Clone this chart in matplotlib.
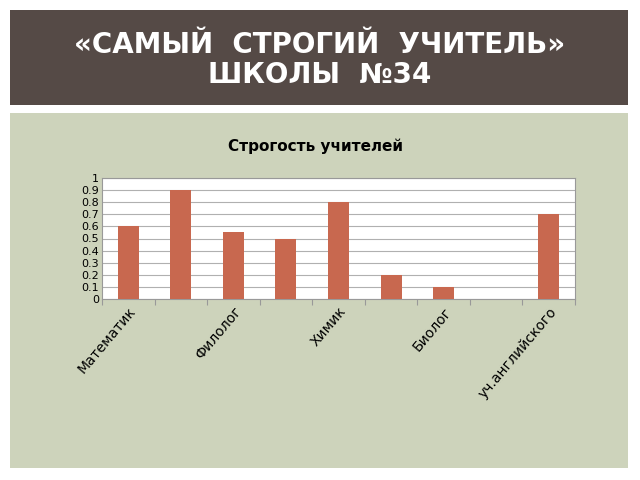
import matplotlib
matplotlib.use("Agg")
import matplotlib.pyplot as plt
from matplotlib.patches import Rectangle

categories = ["Математик", "", "Филолог", "", "Химик", "", "Биолог", "", "уч.английского"]
values = [0.6, 0.9, 0.55, 0.5, 0.8, 0.2, 0.1, 0.0, 0.7]
yticks = [0, 0.1, 0.2, 0.3, 0.4, 0.5, 0.6, 0.7, 0.8, 0.9, 1]
ytick_labels = ["0", "0.1", "0.2", "0.3", "0.4", "0.5", "0.6", "0.7", "0.8", "0.9", "1"]

fig = plt.figure(figsize=(6.4, 4.8), dpi=100)
fig.patch.set_facecolor("white")
fig.add_artist(Rectangle((10/640, 1-105/480), 618/640, 95/480, transform=fig.transFigure,
                         facecolor="#554a46", edgecolor="none", zorder=-10))
fig.add_artist(Rectangle((10/640, 1-468/480), 618/640, 355/480, transform=fig.transFigure,
                         facecolor="#cdd3bb", edgecolor="none", zorder=-10))
fig.text(0.5, 1-60/480, "«САМЫЙ  СТРОГИЙ  УЧИТЕЛЬ»\nШКОЛЫ  №34", color="white", ha="center", va="center",
         fontsize=20, fontweight="bold", family="DejaVu Sans", linespacing=1.05)
fig.text(0.493, 1-146/480, "Строгость учителей", ha="center", va="center", fontsize=11, fontweight="bold")

ax = fig.add_axes([102/640, 1-299/480, 473/640, 121/480])
ax.set_facecolor("white")
x = list(range(len(values)))
ax.bar(x, values, width=0.4, color="#c8684f", zorder=3)
ax.set_xlim(-0.5, len(values) - 0.5)
ax.set_ylim(0, 1)
ax.set_yticks(yticks)
ax.set_yticklabels(ytick_labels, fontsize=8)
ax.yaxis.grid(True, color="#b0b0b0", linewidth=0.8, zorder=0)
ax.set_xticks([i + 0.5 for i in range(-1, len(values))], minor=False)
ax.set_xticklabels([""] * (len(values) + 1))
ax.tick_params(axis="x", length=4, color="#999999")
ax.tick_params(axis="y", length=0, pad=2)
ax.set_xticks(x, minor=True)
ax.set_xticklabels(categories, minor=True, rotation=50, ha="right", rotation_mode="anchor", fontsize=10)
ax.tick_params(axis="x", which="minor", length=0, pad=4)
for s in ax.spines.values():
    s.set_color("#999999")
    s.set_linewidth(0.8)
fig.savefig("out.png", dpi=100)
